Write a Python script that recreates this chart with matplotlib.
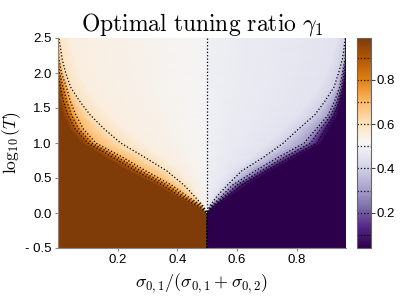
import numpy as np
import matplotlib.pyplot as plt

plt.rcParams['mathtext.fontset'] = 'cm'
plt.rcParams['font.family'] = ['Liberation Sans', 'DejaVu Sans']

# filas en log10(T)
log_t = [-0.5, 0.0, 0.1, 0.25, 0.4, 0.6, 0.8, 1.0, 1.2, 1.4, 1.6, 1.8, 2.0, 2.2, 2.5]

# lado izquierdo: posicion x de cada nivel en cada fila
izq_solido = [0.5, 0.5, 0.46, 0.39, 0.33, 0.235, 0.155, 0.08, 0.04, 0.018, 0.006, 0.0, 0.0, 0.0, 0.0]
izq_09 = [0.5, 0.5, 0.468, 0.405, 0.35, 0.262, 0.182, 0.1, 0.058, 0.033, 0.018, 0.008, 0.0, 0.0, 0.0]
izq_08 = [0.5, 0.5, 0.476, 0.418, 0.365, 0.278, 0.198, 0.113, 0.07, 0.045, 0.029, 0.017, 0.005, 0.0, 0.0]
izq_07 = [0.5, 0.5, 0.484, 0.43, 0.38, 0.295, 0.215, 0.127, 0.085, 0.06, 0.041, 0.028, 0.012, 0.003, 0.0]
izq_06 = [0.5, 0.5, 0.486, 0.455, 0.422, 0.365, 0.289, 0.21, 0.155, 0.108, 0.072, 0.042, 0.026, 0.014, 0.003]
izq_055 = [0.5, 0.5, 0.49, 0.47, 0.45, 0.41, 0.35, 0.28, 0.225, 0.175, 0.13, 0.095, 0.07, 0.055, 0.04]

# lado derecho
der_045 = [0.5, 0.5, 0.506, 0.525, 0.548, 0.59, 0.65, 0.705, 0.755, 0.805, 0.845, 0.88, 0.9, 0.918, 0.935]
der_04 = [0.5, 0.5, 0.508, 0.535, 0.568, 0.615, 0.69, 0.755, 0.806, 0.86, 0.895, 0.925, 0.94, 0.953, 0.963]
der_03 = [0.5, 0.5, 0.513, 0.55, 0.585, 0.66, 0.74, 0.825, 0.865, 0.905, 0.927, 0.944, 0.953, 0.962, 0.965]
der_02 = [0.5, 0.5, 0.518, 0.56, 0.6, 0.68, 0.76, 0.847, 0.88, 0.915, 0.936, 0.95, 0.958, 0.965, 0.965]
der_01 = [0.5, 0.5, 0.523, 0.57, 0.615, 0.695, 0.78, 0.868, 0.895, 0.925, 0.943, 0.955, 0.963, 0.965, 0.965]
der_solido = [0.5, 0.5, 0.53, 0.585, 0.635, 0.715, 0.8, 0.885, 0.91, 0.937, 0.95, 0.96, 0.965, 0.965, 0.965]

x_min, x_max = 0.0, 0.965
gamma_cols = [0.99, 0.99, 0.9, 0.8, 0.7, 0.6, 0.55, 0.51, 0.49, 0.45, 0.4, 0.3, 0.2, 0.1, 0.04, 0.04]
niveles = [0.1, 0.2, 0.3, 0.4, 0.5, 0.6, 0.7, 0.8, 0.9]
xticks = [0.2, 0.4, 0.6, 0.8]
yticks = [-0.5, 0.0, 0.5, 1.0, 1.5, 2.0, 2.5]
ytick_labels = ['- 0.5', '0.0', '0.5', '1.0', '1.5', '2.0', '2.5']
cbar_ticks = [0.2, 0.4, 0.6, 0.8]

# malla curvilinea: cada columna sigue un nivel
n = len(log_t)
cols = [np.full(n, x_min), izq_solido, izq_09, izq_08, izq_07, izq_06, izq_055,
        np.full(n, 0.5), np.full(n, 0.5),
        der_045, der_04, der_03, der_02, der_01, der_solido, np.full(n, x_max)]
X = np.column_stack(cols)
Y = np.repeat(np.array(log_t)[:, None], X.shape[1], axis=1)
C = np.tile(gamma_cols, (n, 1))

fig = plt.figure(figsize=(4.15, 2.97), dpi=100)
ax = fig.add_axes([58 / 415, 49 / 297, 288 / 415, 210 / 297])
cax = fig.add_axes([357 / 415, 49 / 297, 14 / 415, 210 / 297])

mesh = ax.pcolormesh(X, Y, C, shading='gouraud', cmap='PuOr_r', vmin=0.04, vmax=0.99)
ax.contour(X, Y, C, levels=niveles, colors='k', linestyles=':', linewidths=0.9)

ax.set_xlim(x_min, x_max)
ax.set_ylim(-0.5, 2.5)
ax.set_xticks(xticks)
ax.set_xticklabels([f'{v:.1f}' for v in xticks])
ax.set_yticks(yticks)
ax.set_yticklabels(ytick_labels)
for s in ['top', 'right']:
    ax.spines[s].set_visible(False)
for s in ['left', 'bottom']:
    ax.spines[s].set_color('#888888')
ax.tick_params(labelsize=9.5, length=2.5, color='#888888', pad=2)

ax.set_title(r'$\mathrm{Optimal\ tuning\ ratio}\ \gamma_1$', fontsize=17, pad=3)
ax.set_xlabel(r'$\sigma_{0,1}/(\sigma_{0,1}+\sigma_{0,2})$', fontsize=13)
ax.xaxis.set_label_coords(0.5, -0.11)
ax.set_ylabel(r'$\log_{10}(T)$', fontsize=12.5)
ax.yaxis.set_label_coords(-0.12, 0.5)

cbar = fig.colorbar(mesh, cax=cax)
cbar.set_ticks(cbar_ticks)
cbar.ax.tick_params(labelsize=9.5, length=3, color='#444444', pad=1)
cbar.outline.set_edgecolor('#666666')
for lv in niveles:
    cax.axhline(lv, color='k', ls=':', lw=0.9)

plt.savefig('out.png', dpi=100)
